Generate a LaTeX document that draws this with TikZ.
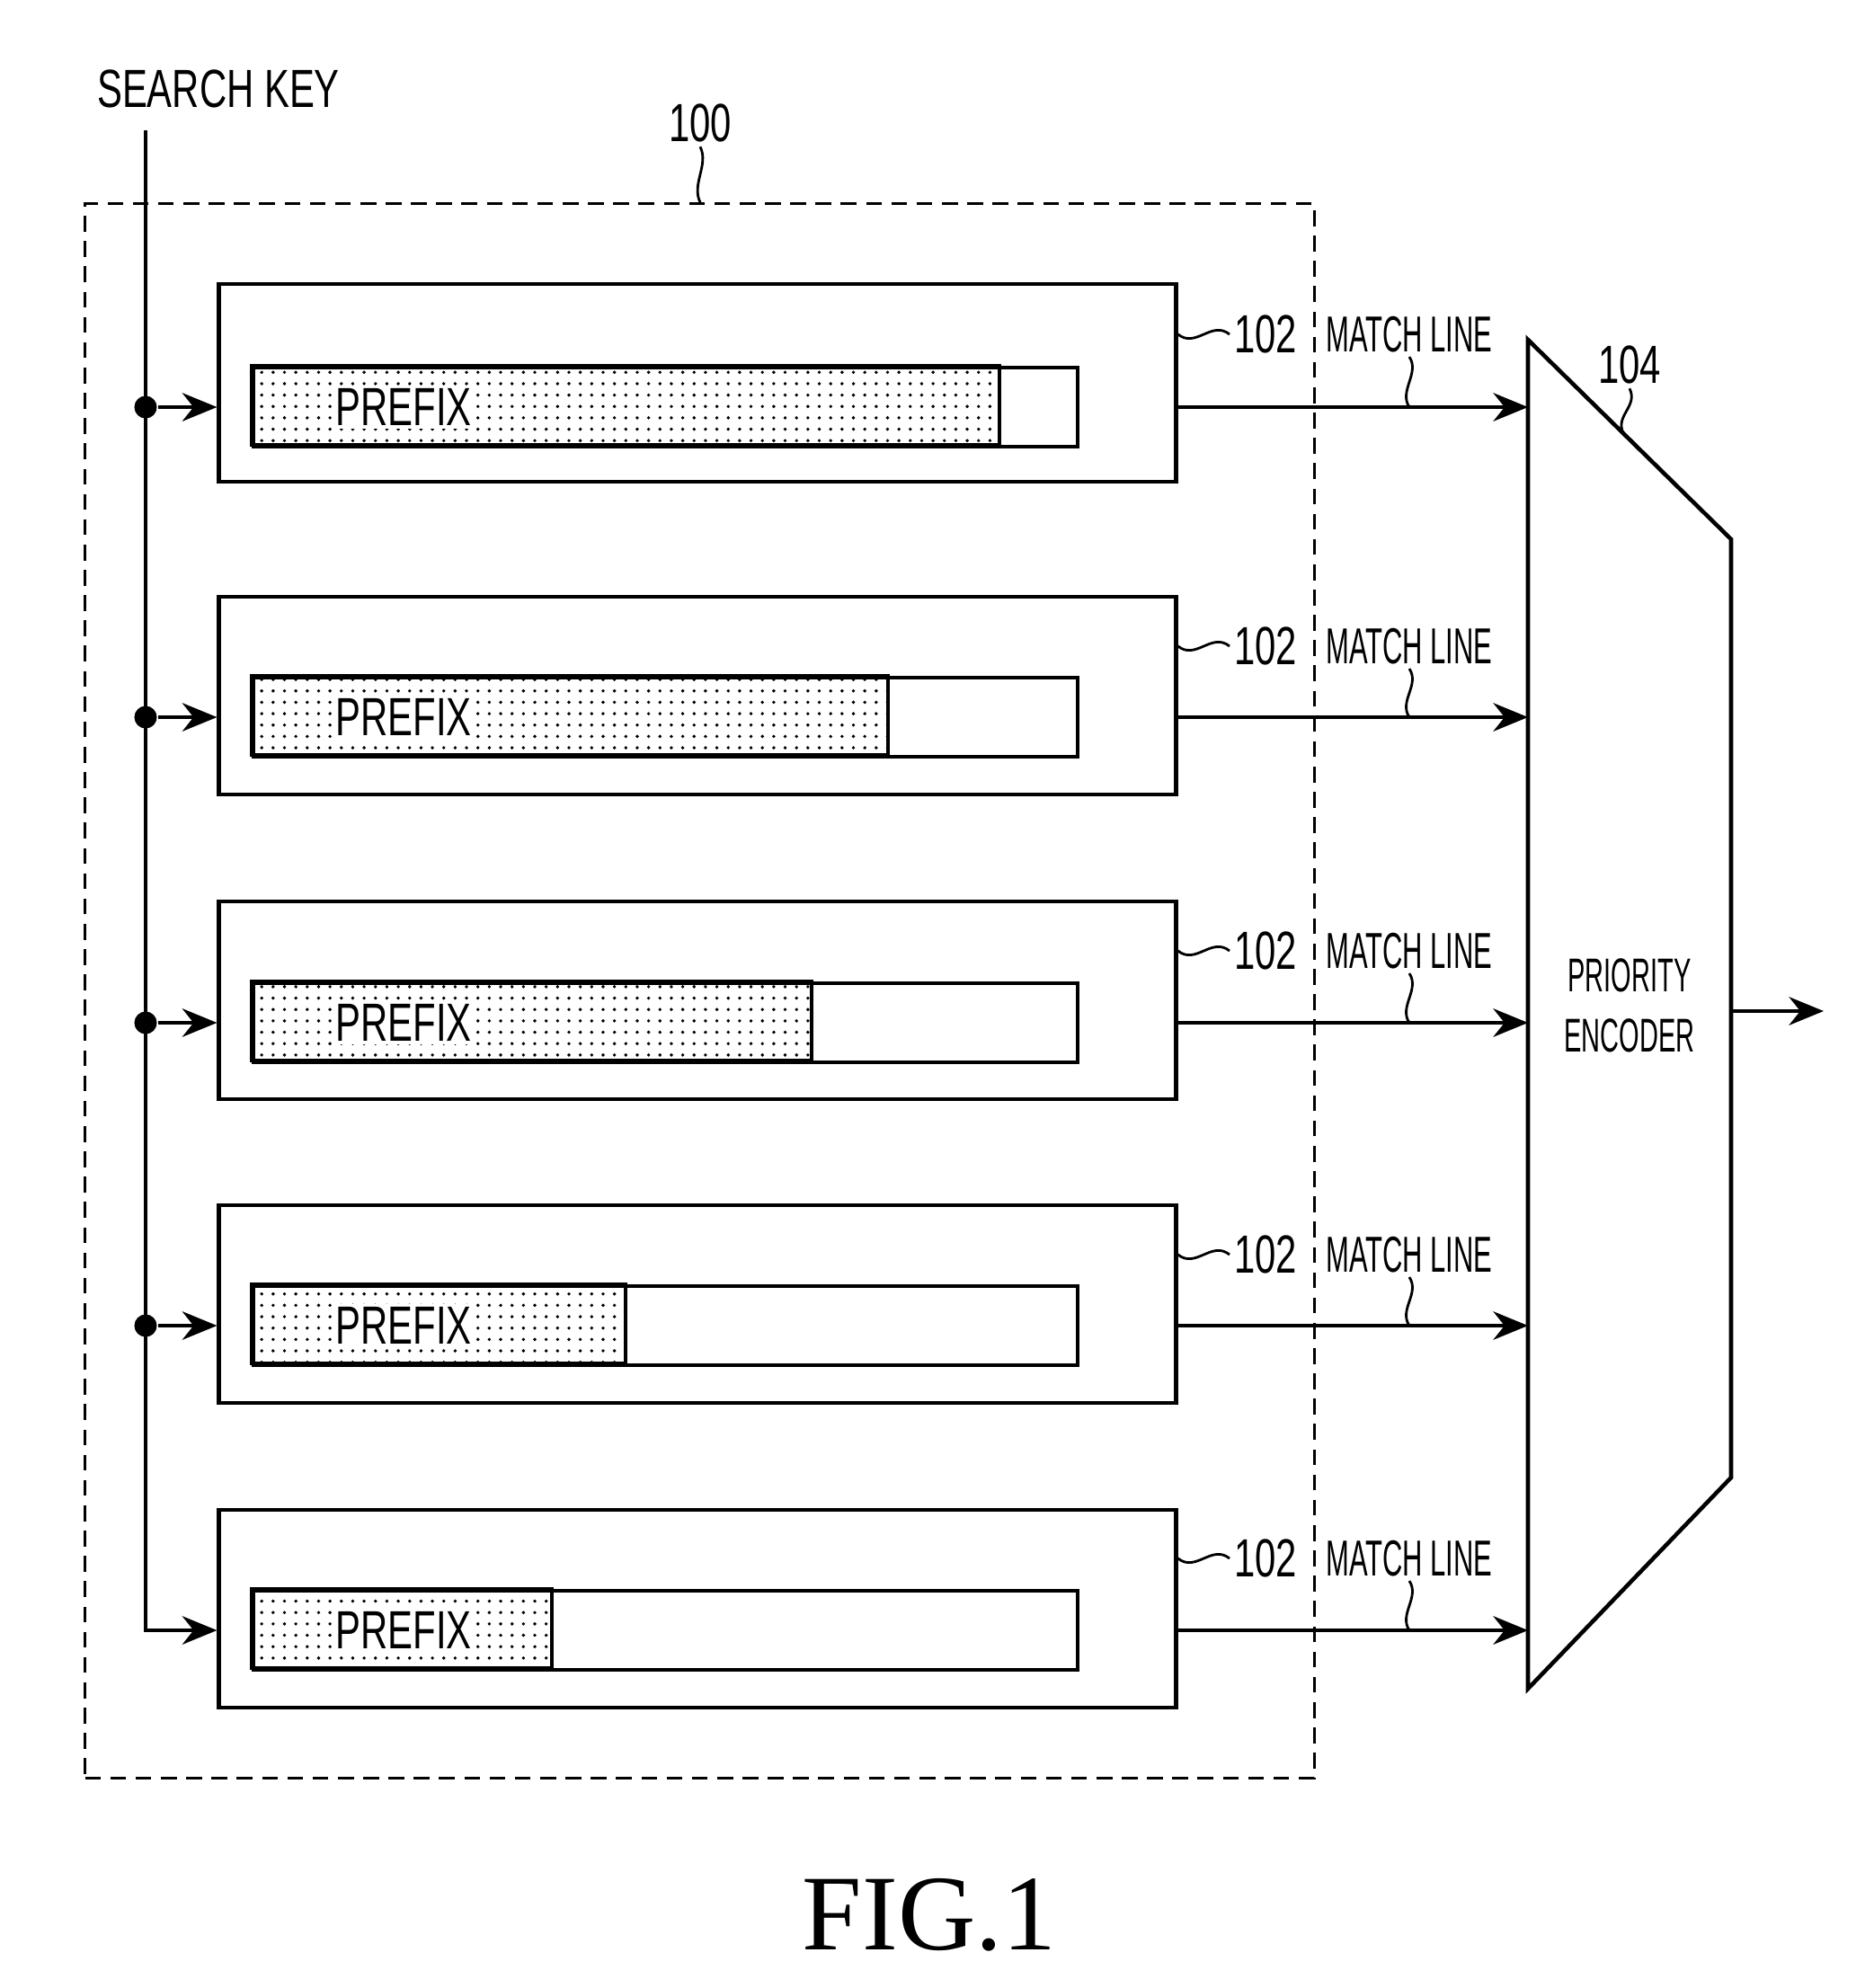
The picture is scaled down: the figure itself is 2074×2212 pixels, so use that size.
\documentclass[tikz,border=0pt]{standalone}
\usepackage{fontspec}
\newfontfamily\narrowfont[FakeStretch=0.7]{Liberation Sans}
\newfontfamily\condfont[FakeStretch=0.55]{Liberation Sans}
\newfontfamily\figfont{Liberation Serif}
\usetikzlibrary{calc,patterns,arrows.meta}
\pgfdeclarepatternformonly{sparsedots}{\pgfqpoint{-1pt}{-1pt}}{\pgfqpoint{1pt}{1pt}}{\pgfqpoint{3.6pt}{3.6pt}}{%
  \pgfpathcircle{\pgfqpoint{0pt}{0pt}}{0.55pt}\pgfusepath{fill}}

\begin{document}
\begin{tikzpicture}[
  x=0.01cm,y=-0.01cm,
  line width=0.9pt,
  entry/.style={draw,line width=1.3pt,minimum width=10.64cm,minimum height=2.2cm,inner sep=0pt},
  bar/.style={draw,line width=1.1pt,minimum width=9.17cm,minimum height=0.88cm,inner sep=0pt},
  dotfill/.style={draw,line width=1.1pt,pattern=sparsedots},
  word/.style={font=\narrowfont\fontsize{17}{20}\selectfont,inner sep=1pt},
  tag/.style={font=\condfont\fontsize{16}{19}\selectfont,inner sep=1pt},
  junction/.style={circle,fill,inner sep=0pt,minimum size=0.25cm},
  feed/.style={-{Stealth[length=11pt,width=9pt]}},
  squig/.style={line width=0.8pt}
  ]
\useasboundingbox (0,0) rectangle (2074,2212);
\node[draw,dashed,dash pattern=on 5pt off 3pt,line width=0.8pt,minimum width=13.67cm,minimum height=17.51cm] (blk) at (778.5,1102.5){};
\node[word] (n100) at (779,137){100};
\draw[squig] (n100.south) .. controls +(10,20) and +(-10,-20) .. (n100 |- blk.north);
\node[word] (key) at (243,99){SEARCH KEY};
\coordinate (keytop) at (162,145);

\node[entry] (e1) at (776,426){};
\node[entry] (e2) at (776,774){};
\node[entry] (e3) at (776,1113){};
\node[entry] (e4) at (776,1451){};
\node[entry] (e5) at (776,1790){};
\node[bar] (p1) at (740.5,453){};
\node[bar] (p2) at (740.5,798){};
\node[bar] (p3) at (740.5,1138){};
\node[bar] (p4) at (740.5,1475){};
\node[bar] (p5) at (740.5,1814){};
\draw[dotfill] (p1.north west) rectangle ++(832,88);
\draw[dotfill] (p2.north west) rectangle ++(708,88);
\draw[dotfill] (p3.north west) rectangle ++(623,88);
\draw[dotfill] (p4.north west) rectangle ++(416,88);
\draw[dotfill] (p5.north west) rectangle ++(334,88);
\node[word,fill=white] (t1) at (449,453){PREFIX};
\node[word,fill=white] (t2) at (449,798){PREFIX};
\node[word,fill=white] (t3) at (449,1138){PREFIX};
\node[word,fill=white] (t4) at (449,1475){PREFIX};
\node[word,fill=white] (t5) at (449,1814){PREFIX};

\node[junction] (j1) at (keytop |- p1){};
\node[junction] (j2) at (keytop |- p2){};
\node[junction] (j3) at (keytop |- p3){};
\node[junction] (j4) at (keytop |- p4){};
\draw[feed] (keytop) |- (e5.west |- p5);
\draw[feed] (j1) -- (e1.west |- p1);
\draw[feed] (j2) -- (e2.west |- p2);
\draw[feed] (j3) -- (e3.west |- p3);
\draw[feed] (j4) -- (e4.west |- p4);

\coordinate (enc-tl) at (1700,378);
\coordinate (enc-tr) at (1926,600);
\coordinate (enc-br) at (1926,1644);
\coordinate (enc-bl) at (1700,1879);
\draw[line width=1.3pt] (enc-tl) -- (enc-tr) -- (enc-br) -- (enc-bl) -- cycle;
\node[tag,font=\condfont\fontsize{15}{19}\selectfont,align=center] (enc) at (1813,1119){PRIORITY\\ENCODER};
\node[word] (n104) at (1813,406){104};
\coordinate (s104) at ($(enc-tl)!0.47!(enc-tr)$);
\draw[squig] (n104.south) .. controls +(10,20) and +(-10,-20) .. (s104);
\coordinate (out) at (2029,1125);
\draw[feed] (enc-tr |- out) -- (out);

\node[word] (r1) at (1408,372){102};
\node[word] (r2) at (1408,719){102};
\node[word] (r3) at (1408,1058){102};
\node[word] (r4) at (1408,1396){102};
\node[word] (r5) at (1408,1734){102};
\node[tag] (m1) at (1568,372){MATCH LINE};
\node[tag] (m2) at (1568,719){MATCH LINE};
\node[tag] (m3) at (1568,1058){MATCH LINE};
\node[tag] (m4) at (1568,1396){MATCH LINE};
\node[tag] (m5) at (1568,1734){MATCH LINE};
\draw[squig] (e1.east |- r1) .. controls +(20,16) and +(-20,-16) .. (r1.west);
\draw[squig] (e2.east |- r2) .. controls +(20,16) and +(-20,-16) .. (r2.west);
\draw[squig] (e3.east |- r3) .. controls +(20,16) and +(-20,-16) .. (r3.west);
\draw[squig] (e4.east |- r4) .. controls +(20,16) and +(-20,-16) .. (r4.west);
\draw[squig] (e5.east |- r5) .. controls +(20,16) and +(-20,-16) .. (r5.west);
\draw[feed] (e1.east |- p1) -- (enc-tl |- p1);
\draw[feed] (e2.east |- p2) -- (enc-tl |- p2);
\draw[feed] (e3.east |- p3) -- (enc-tl |- p3);
\draw[feed] (e4.east |- p4) -- (enc-tl |- p4);
\draw[feed] (e5.east |- p5) -- (enc-tl |- p5);
\draw[squig] (m1.south) .. controls +(12,18) and +(-12,-18) .. (m1 |- p1);
\draw[squig] (m2.south) .. controls +(12,18) and +(-12,-18) .. (m2 |- p2);
\draw[squig] (m3.south) .. controls +(12,18) and +(-12,-18) .. (m3 |- p3);
\draw[squig] (m4.south) .. controls +(12,18) and +(-12,-18) .. (m4 |- p4);
\draw[squig] (m5.south) .. controls +(12,18) and +(-12,-18) .. (m5 |- p5);

\node[font=\figfont\fontsize{34}{40}\selectfont] (fig) at (1034,2131){FIG.1};
\end{tikzpicture}
\end{document}
